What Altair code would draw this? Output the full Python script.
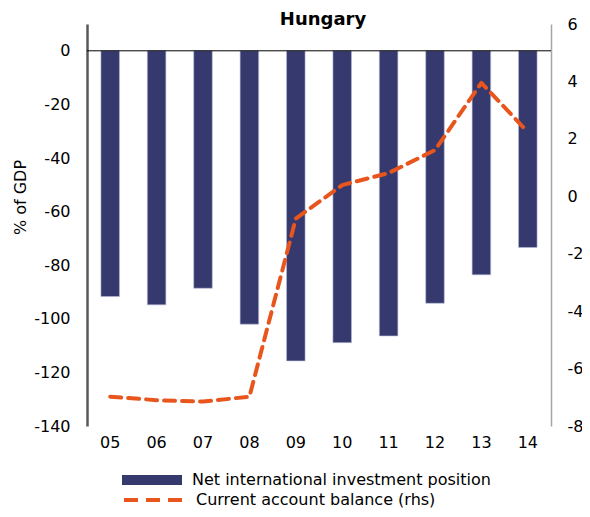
import altair as alt
import pandas as pd

years = ["05", "06", "07", "08", "09", "10", "11", "12", "13", "14"]
niip = [-91.7, -94.8, -88.6, -102.0, -115.7, -108.9, -106.4, -94.2, -83.6, -73.4]
cab = [-6.98, -7.1, -7.15, -6.98, -0.78, 0.39, 0.81, 1.61, 3.95, 2.24]
bar_name = "Net international investment position"
line_name = "Current account balance (rhs)"
left_ticks = [-140, -120, -100, -80, -60, -40, -20, 0]
right_ticks = [-8, -6, -4, -2, 0, 2, 4, 6]

df = pd.DataFrame({"year": years, "niip": niip, "cab": cab,
                   "s1": bar_name, "s2": line_name})

FONT = "DejaVu Sans"
FS = 16
NAVY = "#35396E"
ORANGE = "#E8561E"
HYPHEN = "'' + datum.value"

xenc = alt.X("year:N", sort=years,
             scale=alt.Scale(paddingInner=0.6, paddingOuter=0.3),
             axis=alt.Axis(title=None, labelAngle=0, domain=False, ticks=False,
                           labelFontSize=FS, labelPadding=8, labelColor="#000",
                           labelFont=FONT))

base = alt.Chart(df)

bars = base.mark_bar(stroke="#B9BCD6", strokeWidth=0.6).encode(
    x=xenc,
    y=alt.Y("niip:Q", scale=alt.Scale(domain=[-140, 10], nice=False, zero=False),
            axis=alt.Axis(values=left_ticks, title="% of GDP", grid=False, ticks=False,
                          labelExpr=HYPHEN,
                          domainColor="#595959", domainWidth=2.5,
                          labelFontSize=FS, labelPadding=17, labelColor="#000",
                          labelFont=FONT, titleFont=FONT, titleFontSize=FS,
                          titleFontWeight="normal", titleColor="#000",
                          titlePadding=5, titleY=173)),
    fill=alt.Fill("s1:N", scale=alt.Scale(domain=[bar_name], range=[NAVY]),
                  legend=alt.Legend(title=None, orient="none", legendX=35, legendY=426,
                                    symbolType="M-1,-0.17H1V0.17H-1Z", symbolSize=3600,
                                    symbolStrokeWidth=0, symbolOpacity=1,
                                    labelFontSize=FS, labelFont=FONT, labelColor="#000",
                                    labelOffset=10, labelLimit=400)),
)

zero = base.mark_rule(color="#000", strokeWidth=1).encode(
    y=alt.datum(0)
).transform_filter(alt.datum.year == "05")

line = base.mark_line(strokeWidth=4, strokeDash=[11, 7], strokeCap="round",
                      strokeJoin="round", interpolate="linear").encode(
    x=alt.X("year:N", sort=years),
    y=alt.Y("cab:Q", scale=alt.Scale(domain=[-8, 6], nice=False, zero=False),
            axis=alt.Axis(orient="right", values=right_ticks, title=None, grid=False,
                          ticks=False, labelExpr=HYPHEN,
                          domainColor="#A6A6A6", domainWidth=1.5,
                          labelFontSize=FS, labelPadding=16, labelColor="#000",
                          labelFont=FONT)),
    stroke=alt.Stroke("s2:N", scale=alt.Scale(domain=[line_name], range=[ORANGE]),
                      legend=alt.Legend(title=None, orient="none", legendX=35, legendY=444,
                                        symbolType="stroke", symbolSize=3600,
                                        symbolStrokeWidth=4, symbolDash=[14, 8],
                                        labelFontSize=FS, labelFont=FONT, labelColor="#000",
                                        labelOffset=10, labelLimit=400)),
)

chart = alt.layer(alt.layer(bars, zero), line).resolve_scale(
    y="independent"
).properties(
    width=464, height=402,
    autosize=alt.AutoSizeParams(type="none"),
    padding={"left": 79, "top": 16, "right": 31, "bottom": 83},
    title=alt.Title("Hungary", fontSize=18, fontWeight="bold", font=FONT,
                    anchor="middle", offset=4, dx=4, dy=17, color="#000"),
).configure_view(stroke=None)

chart.save("out.html", embed_options={"renderer": "svg", "actions": False})
